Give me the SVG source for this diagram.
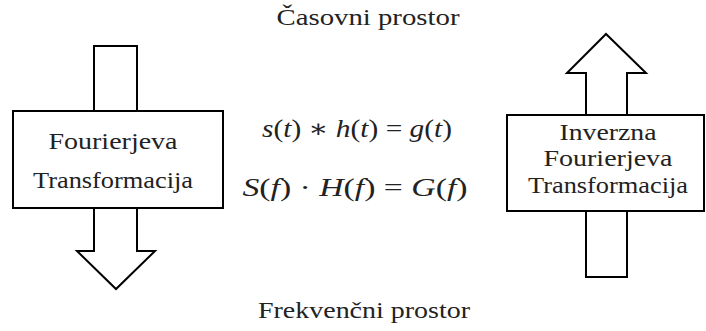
<svg xmlns="http://www.w3.org/2000/svg" width="706" height="331" viewBox="0 0 706 331">
<style>
.s{fill:#fff;stroke:#000;stroke-width:2;stroke-linejoin:miter}
.t{font-family:"Liberation Serif","DejaVu Serif",serif;font-size:24px;fill:#222;text-anchor:middle}
.m{font-family:"Liberation Serif","DejaVu Serif",serif;font-size:25px;font-style:italic;fill:#222;text-anchor:middle}
.u{font-style:normal}
</style>
<rect width="706" height="331" fill="#fff"/>
<g id="connectors">
<polygon class="s" points="94,46 137,46 137,111 94,111"/>
<polygon class="s" points="94,208 137,208 137,251 155,251 116,289 77,251 94,251"/>
<polygon class="s" points="586,277 627,277 627,211 586,211"/>
<polygon class="s" points="586,115 627,115 627,73 646,73 606,34 567,73 586,73"/>
</g>
<g id="fourier">
<rect class="s" x="13" y="111" width="210" height="97"/>
<text class="t" x="113" y="149" textLength="129" lengthAdjust="spacingAndGlyphs">Fourierjeva</text>
<text class="t" x="113" y="188" textLength="160" lengthAdjust="spacingAndGlyphs">Transformacija</text>
</g>
<g id="inverzna">
<rect class="s" x="507" y="115" width="197" height="96"/>
<text class="t" x="608" y="140" textLength="97" lengthAdjust="spacingAndGlyphs">Inverzna</text>
<text class="t" x="608" y="166" textLength="129" lengthAdjust="spacingAndGlyphs">Fourierjeva</text>
<text class="t" x="608" y="193" textLength="160" lengthAdjust="spacingAndGlyphs">Transformacija</text>
</g>
<g id="labels">
<text class="t" x="368" y="25" textLength="183" lengthAdjust="spacingAndGlyphs">Časovni prostor</text>
<text class="t" x="364" y="318" textLength="212" lengthAdjust="spacingAndGlyphs">Frekvenčni prostor</text>
<text class="m" x="357" y="137" textLength="190" lengthAdjust="spacingAndGlyphs">s<tspan class="u">(</tspan>t<tspan class="u">) ∗ </tspan>h<tspan class="u">(</tspan>t<tspan class="u">) = </tspan>g<tspan class="u">(</tspan>t<tspan class="u">)</tspan></text>
<text class="m" x="355" y="196" textLength="225" lengthAdjust="spacingAndGlyphs">S<tspan class="u">(</tspan>f<tspan class="u">) · </tspan>H<tspan class="u">(</tspan>f<tspan class="u">) = </tspan>G<tspan class="u">(</tspan>f<tspan class="u">)</tspan></text>
</g>
</svg>
